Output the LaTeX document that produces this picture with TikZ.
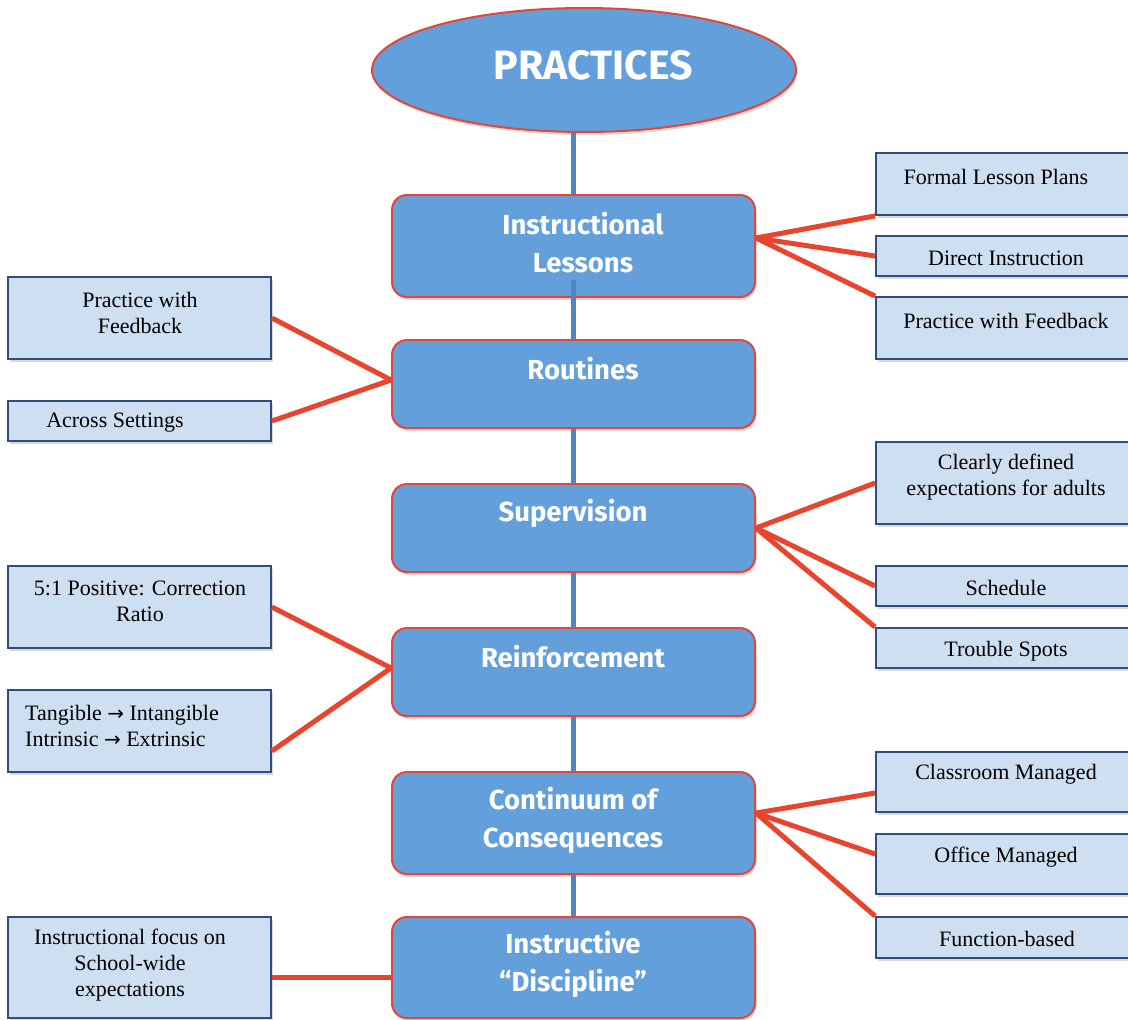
\documentclass[tikz,border=0pt]{standalone}
\usepackage{fontspec}
\setmainfont{Liberation Serif}
\newfontfamily\comicfont{Fira Sans}
\newfontfamily\arrowfont{DejaVu Sans}
\usetikzlibrary{shapes.geometric,shadows}
\definecolor{boxblue}{HTML}{639FDB}
\definecolor{boxred}{HTML}{E0483A}
\definecolor{lightfill}{HTML}{CEDFF1}
\definecolor{navy}{HTML}{2F4E7E}
\definecolor{linkred}{HTML}{E8452F}
\definecolor{stemblue}{HTML}{4F86C0}
\newcommand{\rarr}{{\arrowfont\fontsize{20}{26}\selectfont →}}
\tikzset{
  shade/.style={drop shadow={shadow xshift=1.5pt, shadow yshift=-3pt, opacity=0.3}},
  mainbox/.style={draw=boxred, line width=2pt, fill=boxblue, rounded corners=15pt,
    minimum width=363pt, inner sep=0pt, shade},
  subbox/.style={draw=navy, line width=1.8pt, fill=lightfill, inner sep=0pt,
    minimum width=263pt, shade},
  maintext/.style={text=white, font=\comicfont\bfseries\fontsize{27.5}{38}\selectfont,
    align=center, inner sep=0pt},
  subtext/.style={text=black, font=\fontsize{22}{26}\selectfont, align=center, inner sep=0pt},
  link/.style={draw=linkred, line width=5pt},
  stem/.style={draw=stemblue, line width=5pt}
}
\begin{document}
\begin{tikzpicture}[x=1pt,y=-1pt]
\useasboundingbox (0,0) rectangle (1128,1020);
\clip (0,0) rectangle (1128,1020);
% top ellipse
\node[ellipse, draw=boxred, line width=2pt, fill=boxblue, minimum width=424pt,
  minimum height=124pt, inner sep=0pt, shade] (el) at (584,70) {};
\node[text=white, font=\comicfont\bfseries\fontsize{41}{44}\selectfont, inner sep=0pt]
  (elt) at (593,65) {PRACTICES};
% main boxes
\node[mainbox, minimum height=102pt] (il) at (573.5,246) {};
\node[mainbox, minimum height=88pt] (rt) at (573.5,384) {};
\node[mainbox, minimum height=88pt] (sv) at (573.5,528) {};
\node[mainbox, minimum height=88pt] (rf) at (573.5,672) {};
\node[mainbox, minimum height=102pt] (cc) at (573.5,823) {};
\node[mainbox, minimum height=101pt] (ins) at (573.5,967.5) {};
% stems
\draw[stem] (el.south -| il.north) -- (il.north);
\draw[stem] ([yshift=18pt]il.south) -- (rt.north);
\draw[stem] (rt.south) -- (sv.north);
\draw[stem] (sv.south) -- (rf.north);
\draw[stem] (rf.south) -- (cc.north);
\draw[stem] (cc.south) -- (ins.north);
% main texts
\node[maintext] (ilt) at (583,243) {Instructional\\Lessons};
\node[maintext] (rtt) at (583,369) {Routines};
\node[maintext] (svt) at (573,513) {Supervision};
\node[maintext] (rft) at (573,657) {Reinforcement};
\node[maintext] (cct) at (573,820) {Continuum of\\Consequences};
\node[maintext] (inst) at (573,964) {Instructive\\“Discipline”};
% right boxes
\node[subbox, minimum height=62pt] (fl) at (1007.5,184) {};
\node[subbox, minimum height=40pt] (di) at (1007.5,256) {};
\node[subbox, minimum height=62pt] (pf) at (1007.5,328) {};
\node[subbox, minimum height=82pt] (cd) at (1007.5,483) {};
\node[subbox, minimum height=40pt] (sc) at (1007.5,586) {};
\node[subbox, minimum height=40pt] (ts) at (1007.5,648) {};
\node[subbox, minimum height=60pt] (cm) at (1007.5,782) {};
\node[subbox, minimum height=60pt] (om) at (1007.5,864) {};
\node[subbox, minimum height=41pt] (fb) at (1007.5,937.5) {};
% left boxes
\node[subbox, minimum height=82pt] (lpf) at (139.5,318) {};
\node[subbox, minimum height=40pt] (as) at (139.5,421) {};
\node[subbox, minimum height=82pt] (pr) at (139.5,607) {};
\node[subbox, minimum height=82pt] (ti) at (139.5,731) {};
\node[subbox, minimum height=101pt] (ifo) at (139.5,967.5) {};
% sub texts
\node[subtext] (flt) at (996,177) {Formal Lesson Plans};
\node[subtext] (dit) at (1006,258) {Direct Instruction};
\node[subtext] (pft) at (1006,321) {Practice with Feedback};
\node[subtext] (cdt) at (1006,477) {Clearly defined\\expectations for adults};
\node[subtext] (sct) at (1006,588) {Schedule};
\node[subtext] (tst) at (1006,651) {Trouble Spots};
\node[subtext] (cmt) at (1006,774) {Classroom Managed};
\node[subtext] (omt) at (1006,857) {Office Managed};
\node[subtext] (fbt) at (1007,939) {Function-based};
\node[subtext] (lpft) at (140,313) {Practice with\\Feedback};
\node[subtext] (ast) at (115,423) {Across Settings};
\node[subtext] (prt) at (140,601) {5:1 Positive: Correction\\Ratio};
\node[subtext, align=left, anchor=west] (tit) at (25,726) {Tangible \rarr{} Intangible\\Intrinsic \rarr{} Extrinsic};
\node[subtext] (ifot) at (130,965) {Instructional focus on\\School-wide\\expectations};
% red links
\draw[link] ([yshift=8pt]il.east) -- (fl.south west);
\draw[link] ([yshift=8pt]il.east) -- (di.west);
\draw[link] ([yshift=8pt]il.east) -- (pf.north west);
\draw[link] ([yshift=4pt]rt.west) -- (lpf.east);
\draw[link] ([yshift=4pt]rt.west) -- (as.east);
\draw[link] (sv.east) -- (cd.west);
\draw[link] (sv.east) -- (sc.west);
\draw[link] (sv.east) -- (ts.north west);
\draw[link] ([yshift=4pt]rf.west) -- (pr.east);
\draw[link] ([yshift=4pt]rf.west) -- ([yshift=-20pt]ti.east);
\draw[link] ([yshift=10pt]cc.east) -- ([yshift=-11pt]cm.west);
\draw[link] ([yshift=10pt]cc.east) -- ([yshift=10pt]om.west);
\draw[link] ([yshift=10pt]cc.east) -- (fb.north west);
\draw[link] ([yshift=-10pt]ifo.east) -- ([yshift=-10pt]ins.west);
\end{tikzpicture}
\end{document}
